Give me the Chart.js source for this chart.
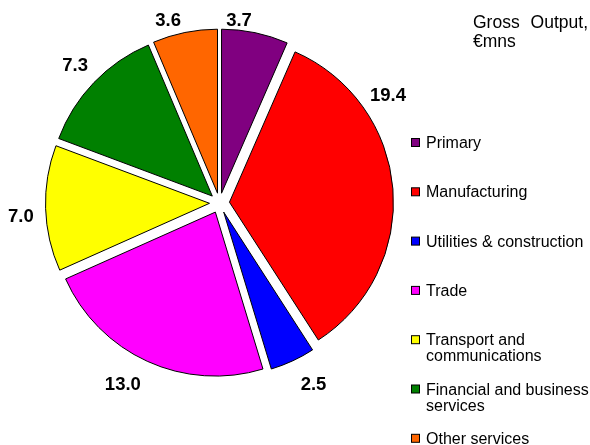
<!DOCTYPE html>
<html><head><meta charset="utf-8">
<script src="https://cdn.jsdelivr.net/npm/chart.js@4.4.1/dist/chart.umd.min.js"></script>
<style>html,body{margin:0;padding:0;background:#fff;overflow:hidden}canvas{display:block}</style>
</head><body>
<canvas id="c" width="590" height="445"></canvas>
<script>
// ---- data ----
const categories = ["Primary", "Manufacturing", "Utilities & construction", "Trade", "Transport and communications", "Financial and business services", "Other services"];
const grossOutput = [3.7, 19.4, 2.5, 13.0, 7.0, 7.3, 3.6];
const sliceColors = ["#800080", "#FF0000", "#0000FF", "#FF00FF", "#FFFF00", "#008000", "#FF6600"];
const titleText = "Gross Output, €mns";

// ---- styling constants ----
const FONT = '"Liberation Sans", Arial, Helvetica, sans-serif';
const EXPLODE = 10;        // px each slice is pulled out
const RADIUS = 164;
// per-label placement tweaks (degrees along the rim, extra px beyond the rim)
const LABEL_ANGLE_NUDGE = [-5.7, 0, -2.6, 3.6, -1.9, 0, -4.2];
const LABEL_DIST_EXTRA = [10, 26, 30, 31, 25, 26, 16];
const LEGEND_X = 411;
const LEGEND_TEXT_X = 426;
const LEGEND_FIRST_BASELINE = 148;
const LEGEND_STEP = 49.3;
const LEGEND_LINE = 16;
const LEGEND_WRAP = 166;

// explode slices: translate each arc outward along its bisector
const baseArcDraw = Chart.ArcElement.prototype.draw;
Chart.ArcElement.prototype.draw = function (ctx) {
  const h = (this.startAngle + this.endAngle) / 2;
  ctx.save();
  ctx.translate(Math.cos(h) * EXPLODE, Math.sin(h) * EXPLODE);
  baseArcDraw.call(this, ctx);
  ctx.restore();
};

function wrap(ctx, text, maxW) {
  const words = text.split(' ');
  const lines = [];
  let cur = '';
  words.forEach(w => {
    const t = cur ? cur + ' ' + w : w;
    if (cur && ctx.measureText(t).width > maxW) { lines.push(cur); cur = w; }
    else cur = t;
  });
  if (cur) lines.push(cur);
  return lines;
}

const valueLabels = {
  id: 'valueLabels',
  afterDatasetsDraw(chart) {
    const ctx = chart.ctx;
    const meta = chart.getDatasetMeta(0);
    ctx.save();
    ctx.font = 'bold 18.5px ' + FONT;
    ctx.fillStyle = '#000';
    ctx.textAlign = 'center';
    ctx.textBaseline = 'middle';
    const limitX = LEGEND_X - 5;
    meta.data.forEach((arc, i) => {
      const txt = grossOutput[i].toFixed(1);
      const w = ctx.measureText(txt).width;
      const mid = (arc.startAngle + arc.endAngle) / 2 + LABEL_ANGLE_NUDGE[i] * Math.PI / 180;
      const R = arc.outerRadius + EXPLODE + LABEL_DIST_EXTRA[i];
      let px = arc.x + Math.cos(mid) * R;
      let py = arc.y + Math.sin(mid) * R;
      if (px + w / 2 > limitX) {
        px = limitX - w / 2;
        const dy = Math.sqrt(Math.max(R * R - (px - arc.x) ** 2, 0));
        py = arc.y + (Math.sin(mid) < 0 ? -dy : dy);
      }
      ctx.fillText(txt, px, py + 1);
    });
    ctx.restore();
  }
};

const sideTexts = {
  id: 'sideTexts',
  afterDraw(chart) {
    const ctx = chart.ctx;
    ctx.save();
    ctx.fillStyle = '#000';
    ctx.textBaseline = 'alphabetic';
    // legend
    ctx.font = '16px ' + FONT;
    categories.forEach((name, i) => {
      const base = LEGEND_FIRST_BASELINE + i * LEGEND_STEP;
      ctx.fillStyle = sliceColors[i];
      ctx.fillRect(LEGEND_X + 0.5, base - 9.5, 8, 8);
      ctx.strokeStyle = '#000';
      ctx.lineWidth = 1;
      ctx.strokeRect(LEGEND_X + 0.5, base - 9.5, 8, 8);
      ctx.fillStyle = '#000';
      ctx.textAlign = 'left';
      wrap(ctx, name, LEGEND_WRAP).forEach((ln, k) => ctx.fillText(ln, LEGEND_TEXT_X, base + k * LEGEND_LINE));
    });
    // title, justified
    ctx.font = '17.5px ' + FONT;
    const tx = 473, tw = 115;
    const lines = wrap(ctx, titleText, tw);
    lines.forEach((ln, k) => {
      const y = 27.5 + k * 19;
      const words = ln.split(' ');
      if (k < lines.length - 1 && words.length > 1) {
        const total = words.reduce((s, w) => s + ctx.measureText(w).width, 0);
        const gap = (tw - total) / (words.length - 1);
        let x = tx;
        words.forEach(w => { ctx.fillText(w, x, y); x += ctx.measureText(w).width + gap; });
      } else {
        ctx.fillText(ln, tx, y);
      }
    });
    ctx.restore();
  }
};

new Chart(document.getElementById('c'), {
  type: 'pie',
  data: {
    labels: categories,
    datasets: [{
      data: grossOutput,
      backgroundColor: sliceColors,
      borderColor: '#000',
      borderWidth: 1
    }]
  },
  options: {
    responsive: false,
    animation: false,
    radius: RADIUS,
    layout: { padding: { left: 0, right: 151, top: 0, bottom: 39 } },
    plugins: { legend: { display: false }, tooltip: { enabled: false }, title: { display: false } }
  },
  plugins: [valueLabels, sideTexts]
});
</script>
</body></html>
